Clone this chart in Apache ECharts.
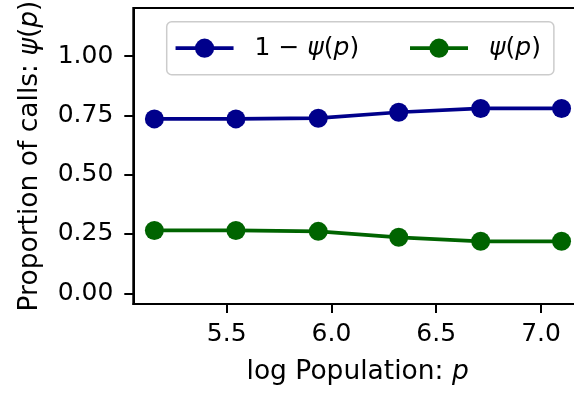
<!DOCTYPE html>
<html>
<head>
<meta charset="utf-8">
<script src="https://cdn.jsdelivr.net/npm/echarts@6/dist/echarts.min.js"></script>
<style>
  html, body { margin: 0; padding: 0; background: #ffffff; }
  #chart { width: 574px; height: 398px; }
</style>
</head>
<body>
<div id="chart"></div>
<script>
// log population (x) for each group
const logPopulation = [5.155, 5.544, 5.937, 6.321, 6.712, 7.098];
// share of calls: 1 - psi(p) and psi(p)
const oneMinusPsi = [0.735, 0.735, 0.738, 0.763, 0.779, 0.779];
const psi = [0.265, 0.265, 0.261, 0.236, 0.219, 0.219];
// tick positions
const xTicks = [5.5, 6.0, 6.5, 7.0];
const yTicks = [0, 0.25, 0.5, 0.75, 1.0];

const FONT = 'DejaVu Sans';
const FS = 25;      // tick labels and legend
const NAME_FS = 26.5; // axis titles
const BLUE = '#00008b';
const GREEN = '#006400';

function italic(size) {
  return { fontStyle: 'italic', fontFamily: FONT, fontSize: size, color: '#000' };
}

function pairs(xs, ys) { return xs.map((x, i) => [x, ys[i]]); }

const chart = echarts.init(document.getElementById('chart'), null, { renderer: 'canvas' });

chart.setOption({
  animation: false,
  backgroundColor: '#ffffff',
  grid: {
    left: 133.3, top: 8, width: 448.7, height: 296,
    outerBoundsMode: 'none',
    containLabel: false,
    show: true, borderColor: '#000', borderWidth: 2, backgroundColor: 'transparent'
  },
  xAxis: {
    type: 'value',
    min: 5.0544, max: 7.1956,
    name: 'log Population: {i|p}',
    nameLocation: 'middle',
    nameGap: 55,
    nameTextStyle: { fontFamily: FONT, fontSize: NAME_FS, color: '#000', rich: { i: italic(NAME_FS) } },
    axisLine: { show: true, onZero: false, lineStyle: { color: '#000', width: 2 } },
    axisTick: { show: true, length: 9, lineStyle: { color: '#000', width: 2 }, customValues: xTicks },
    axisLabel: { fontFamily: FONT, fontSize: FS, color: '#000', margin: 18,
      customValues: xTicks, formatter: v => v.toFixed(1) },
    splitLine: { show: false }
  },
  yAxis: {
    type: 'value',
    min: -0.0451, max: 1.2023,
    name: 'Proportion of calls: {i|ψ}({i|p})',
    nameLocation: 'middle',
    nameGap: 90,
    nameTextStyle: { fontFamily: FONT, fontSize: NAME_FS, color: '#000', rich: { i: italic(NAME_FS) } },
    axisLine: { show: true, onZero: false, lineStyle: { color: '#000', width: 2 } },
    axisTick: { show: true, length: 9, lineStyle: { color: '#000', width: 2 }, customValues: yTicks },
    axisLabel: { fontFamily: FONT, fontSize: FS, color: '#000', margin: 20,
      customValues: yTicks, formatter: v => v.toFixed(2) },
    splitLine: { show: false }
  },
  legend: {
    left: 166.7, top: 21.7,
    orient: 'horizontal',
    padding: [14, 13, 14, 7],
    itemWidth: 58, itemHeight: 24, itemGap: 49,
    backgroundColor: 'rgba(255,255,255,0.8)',
    borderColor: '#cccccc', borderWidth: 1.5, borderRadius: 5,
    lineStyle: { width: 3.7 },
    data: ['one', 'psi'],
    formatter: n => n === 'one' ? '1 − {i|ψ}({i|p})' : '{i|ψ}({i|p})',
    textStyle: { fontFamily: FONT, fontSize: FS, color: '#000', padding: [0, 0, 0, 16], rich: { i: italic(FS) } }
  },
  series: [
    {
      name: 'one', type: 'line', data: pairs(logPopulation, oneMinusPsi),
      symbol: 'circle', symbolSize: 19,
      lineStyle: { color: BLUE, width: 3.7 }, itemStyle: { color: BLUE }
    },
    {
      name: 'psi', type: 'line', data: pairs(logPopulation, psi),
      symbol: 'circle', symbolSize: 19,
      lineStyle: { color: GREEN, width: 3.7 }, itemStyle: { color: GREEN }
    }
  ]
});
</script>
</body>
</html>
